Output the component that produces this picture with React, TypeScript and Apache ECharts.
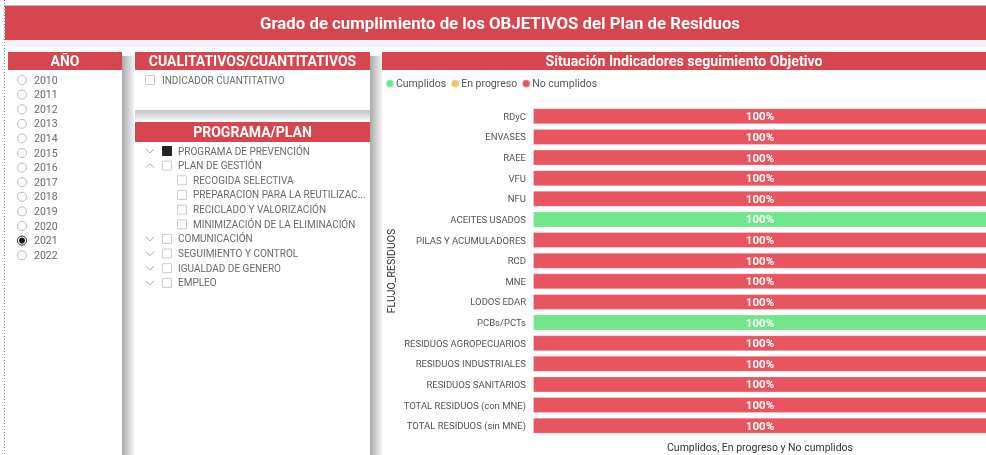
import React, { useEffect, useRef } from "react";
import * as echarts from "echarts";

const categories = [
  "RDyC", "ENVASES", "RAEE", "VFU", "NFU", "ACEITES USADOS", "PILAS Y ACUMULADORES",
  "RCD", "MNE", "LODOS EDAR", "PCBs/PCTs", "RESIDUOS AGROPECUARIOS",
  "RESIDUOS INDUSTRIALES", "RESIDUOS SANITARIOS", "TOTAL RESIDUOS (con MNE)", "TOTAL RESIDUOS (sin MNE)",
];
const cumplidos = [null, null, null, null, null, 100, null, null, null, null, 100, null, null, null, null, null];
const enProgreso = [null, null, null, null, null, null, null, null, null, null, null, null, null, null, null, null];
const noCumplidos = [100, 100, 100, 100, 100, null, 100, 100, 100, 100, null, 100, 100, 100, 100, 100];

const years = ["2010", "2011", "2012", "2013", "2014", "2015", "2016", "2017", "2018", "2019", "2020", "2021", "2022"];
const selectedYear = "2021";
const programItems = [
  { text: "PROGRAMA DE PREVENCIÓN", level: 0, chev: "down", checked: true },
  { text: "PLAN DE GESTIÓN", level: 0, chev: "up", checked: false },
  { text: "RECOGIDA SELECTIVA", level: 1, chev: "", checked: false },
  { text: "PREPARACION PARA LA REUTILIZAC...", level: 1, chev: "", checked: false },
  { text: "RECICLADO Y VALORIZACIÓN", level: 1, chev: "", checked: false },
  { text: "MINIMIZACIÓN DE LA ELIMINACIÓN", level: 1, chev: "", checked: false },
  { text: "COMUNICACIÓN", level: 0, chev: "down", checked: false },
  { text: "SEGUIMIENTO Y CONTROL", level: 0, chev: "down", checked: false },
  { text: "IGUALDAD DE GENERO", level: 0, chev: "down", checked: false },
  { text: "EMPLEO", level: 0, chev: "down", checked: false },
];

const RED = "#D7454F";
const BAR_RED = "#E9555F";
const GREEN = "#72E68A";
const ORANGE = "#F5C26B";
const FONT = "Roboto, 'Open Sans', sans-serif";
const TXT = "#6a6a6a";

function shadowV(x: number, y: number, w: number, h: number) {
  return {
    type: "rect", shape: { x, y, width: w, height: h }, silent: true,
    style: {
      fill: new echarts.graphic.LinearGradient(0, 0, 1, 0, [
        { offset: 0, color: "#a9a9a9" },
        { offset: 0.5, color: "#cfcfcf" },
        { offset: 1, color: "#f2f2f2" },
      ]),
    },
  };
}

function header(x: number, y: number, w: number, h: number, text: string, size: number) {
  return [
    { type: "rect", shape: { x, y, width: w, height: h }, style: { fill: RED } },
    {
      type: "text", x: x + w / 2, y: y + h / 2,
      style: { text, fill: "#fff", font: `bold ${size}px ${FONT}`, align: "center", verticalAlign: "middle" },
    },
  ];
}

export default function App() {
  const ref = useRef<HTMLDivElement>(null);
  useEffect(() => {
    if (!ref.current) return;
    const chart = echarts.init(ref.current, null, { renderer: "svg" });
    const g: any[] = [];
    g.push({ type: "rect", shape: { x: 0, y: 0, width: 986, height: 455 }, style: { fill: "#fff" }, z: -10 });
    g.push({ type: "line", shape: { x1: 4.5, y1: 0, x2: 4.5, y2: 455 }, style: { stroke: "#888", lineDash: [1, 2], lineWidth: 1 } });
    g.push({ type: "line", shape: { x1: 4, y1: 5.5, x2: 986, y2: 5.5 }, style: { stroke: "#bbb", lineWidth: 1 } });
    g.push({ type: "rect", shape: { x: 5, y: 6, width: 981, height: 34 }, style: { fill: RED } });
    g.push({
      type: "text", x: 500, y: 23,
      style: { text: "Grado de cumplimiento de los OBJETIVOS del Plan de Residuos", fill: "#fff", font: `bold 16.8px ${FONT}`, align: "center", verticalAlign: "middle" },
    });
    g.push({ type: "rect", shape: { x: 5, y: 40, width: 981, height: 7 }, style: { fill: "#f4f4f4" } });

    g.push(shadowV(122, 56, 12, 399));
    g.push(shadowV(370, 56, 12, 399));
    g.push({
      type: "rect", shape: { x: 135, y: 110, width: 235, height: 10 },
      style: {
        fill: new echarts.graphic.LinearGradient(0, 0, 0, 1, [
          { offset: 0, color: "#c4c4c4" }, { offset: 1, color: "#f4f4f4" },
        ]),
      },
    });

    // AÑO panel
    g.push({ type: "rect", shape: { x: 8, y: 52, width: 114, height: 403 }, style: { fill: "#fff" } });
    g.push(...header(8, 52, 114, 18, "AÑO", 14));
    years.forEach((yr, i) => {
      const cy = 80 + i * 14.6;
      g.push({ type: "circle", shape: { cx: 22, cy, r: 4.5 }, style: { fill: "#fff", stroke: "#bbb", lineWidth: 1 } });
      if (yr === selectedYear) {
        g.push({ type: "circle", shape: { cx: 22, cy, r: 4.5 }, style: { fill: "#fff", stroke: "#333", lineWidth: 1 } });
        g.push({ type: "circle", shape: { cx: 22, cy, r: 3 }, style: { fill: "#111" } });
      }
      g.push({ type: "text", x: 34, y: cy, style: { text: yr, fill: TXT, font: `10.5px ${FONT}`, verticalAlign: "middle" } });
    });

    // CUALITATIVOS panel
    g.push({ type: "rect", shape: { x: 135, y: 52, width: 235, height: 58 }, style: { fill: "#fff" } });
    g.push(...header(135, 52, 235, 18, "CUALITATIVOS/CUANTITATIVOS", 14));
    g.push({ type: "rect", shape: { x: 145.5, y: 75.5, width: 9, height: 9 }, style: { fill: "#fff", stroke: "#ccc" } });
    g.push({ type: "text", x: 162, y: 80, style: { text: "INDICADOR CUANTITATIVO", fill: TXT, font: `10px ${FONT}`, verticalAlign: "middle" } });

    // PROGRAMA panel
    g.push({ type: "rect", shape: { x: 135, y: 122, width: 235, height: 333 }, style: { fill: "#fff" } });
    g.push(...header(135, 122, 235, 20, "PROGRAMA/PLAN", 14));
    programItems.forEach((it, i) => {
      const cy = 151 + i * 14.65;
      const cbx = it.level === 0 ? 162 : 177;
      if (it.chev === "down") {
        g.push({ type: "polyline", shape: { points: [[146, cy - 2], [150, cy + 2], [154, cy - 2]] }, style: { stroke: "#aaa", fill: null, lineWidth: 1 } });
      } else if (it.chev === "up") {
        g.push({ type: "polyline", shape: { points: [[146, cy + 2], [150, cy - 2], [154, cy + 2]] }, style: { stroke: "#aaa", fill: null, lineWidth: 1 } });
      }
      g.push({
        type: "rect", shape: { x: cbx + 0.5, y: cy - 4.5, width: 9, height: 9 },
        style: { fill: it.checked ? "#222" : "#fff", stroke: it.checked ? "#222" : "#ccc" },
      });
      g.push({ type: "text", x: cbx + 16, y: cy, style: { text: it.text, fill: TXT, font: `10px ${FONT}`, verticalAlign: "middle" } });
    });

    // Chart panel header
    g.push({ type: "rect", shape: { x: 382, y: 52, width: 604, height: 403 }, style: { fill: "#fff" }, z: -5 });
    g.push(...header(382, 52, 604, 18, "Situación Indicadores seguimiento Objetivo", 14.2));

    const labelCfg = {
      show: true, position: "inside", formatter: (p: any) => (p.value == null ? "" : p.value + "%"),
      color: "#fff", fontWeight: "bold", fontSize: 11.5, fontFamily: FONT,
    };
    const mk = (name: string, data: (number | null)[], color: string) => ({
      name, type: "bar", stack: "total", data, barWidth: 16,
      itemStyle: { color, borderColor: "rgba(255,255,255,0.25)", borderWidth: 1 },
      label: labelCfg,
    });

    chart.setOption({
      animation: false,
      textStyle: { fontFamily: FONT },
      graphic: { elements: g },
      legend: {
        left: 380, top: 73, icon: "circle", itemWidth: 8, itemHeight: 8, itemGap: 4,
        textStyle: { color: "#555", fontSize: 10.5, fontFamily: FONT, padding: [0, 0, 0, -3] },
        data: ["Cumplidos", "En progreso", "No cumplidos"],
      },
      grid: { left: 533, right: -1, top: 106, bottom: 19, containLabel: false, outerBoundsMode: "none" },
      xAxis: {
        type: "value", min: 0, max: 100,
        axisLabel: { show: false }, axisLine: { show: false }, axisTick: { show: false }, splitLine: { show: false },
        name: "Cumplidos, En progreso y No cumplidos", nameLocation: "middle", nameGap: 6,
        nameTextStyle: { color: "#333", fontSize: 10.5, fontFamily: FONT },
      },
      yAxis: {
        type: "category", data: categories, inverse: true,
        axisLine: { show: false }, axisTick: { show: false },
        axisLabel: { color: "#555", fontSize: 9.5, fontFamily: FONT, margin: 7 },
        name: "FLUJO_RESIDUOS", nameLocation: "middle", nameGap: 136, nameRotate: 90,
        nameTextStyle: { color: "#333", fontSize: 10.5, fontFamily: FONT },
      },
      series: [
        mk("Cumplidos", cumplidos, GREEN),
        mk("En progreso", enProgreso, ORANGE),
        mk("No cumplidos", noCumplidos, BAR_RED),
      ],
    });
    return () => chart.dispose();
  }, []);
  return <div ref={ref} style={{ position: "fixed", left: 0, top: 0, width: 986, height: 455 }} />;
}
